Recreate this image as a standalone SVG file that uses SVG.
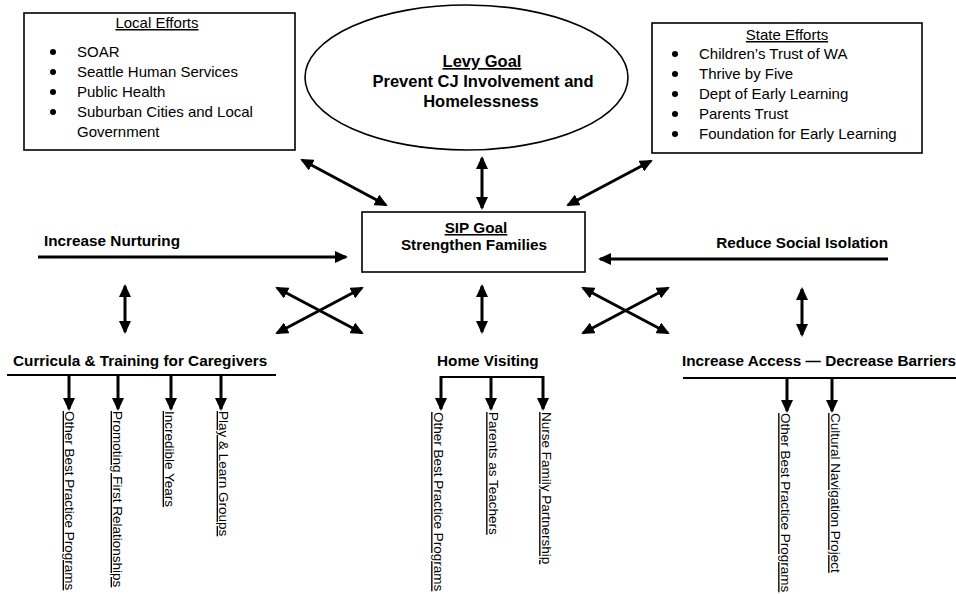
<svg xmlns="http://www.w3.org/2000/svg" width="956" height="594" viewBox="0 0 956 594">
<style>
  text { font-family: "Liberation Sans", Arial, sans-serif; fill: #000; }
  .box { fill: #fff; stroke: #000; stroke-width: 1.6; }
  .reg { font-size: 15px; }
  .title { font-size: 15px; text-decoration: underline; text-anchor: middle; }
  .bold { font-size: 15.3px; font-weight: bold; }
  .big { font-size: 16.5px; font-weight: bold; text-anchor: middle; }
  .item { font-size: 13.5px; text-decoration: underline; }
  .conn { stroke: #000; stroke-width: 3; fill: none; }
  .thin { stroke: #000; stroke-width: 2; fill: none; }
  .dbl { marker-start: url(#ah); marker-end: url(#ah); }
  .one { marker-end: url(#ah); }
</style>
<defs>
  <marker id="ah" viewBox="0 0 13 12" markerWidth="13" markerHeight="12" refX="11" refY="6" orient="auto-start-reverse" markerUnits="userSpaceOnUse">
    <path d="M0,0 L13,6 L0,12 z" fill="#000"/>
  </marker>
</defs>
<rect width="956" height="594" fill="#fff"/>

<g id="local-efforts">
  <rect class="box" x="24" y="13" width="271" height="137"/>
  <text class="title" x="157" y="28">Local Efforts</text>
  <g fill="#000">
    <circle cx="53" cy="52" r="3"/><circle cx="53" cy="72" r="3"/><circle cx="53" cy="92" r="3"/><circle cx="53" cy="112" r="3"/>
  </g>
  <text class="reg" x="77" y="57">SOAR</text>
  <text class="reg" x="77" y="77">Seattle Human Services</text>
  <text class="reg" x="77" y="97">Public Health</text>
  <text class="reg" x="77" y="117">Suburban Cities and Local</text>
  <text class="reg" x="77" y="137">Government</text>
</g>

<g id="levy-goal">
  <ellipse class="box" cx="466.5" cy="77.5" rx="161.5" ry="72.5"/>
  <text class="big" x="482" y="67" text-decoration="underline">Levy Goal</text>
  <text class="big" x="483" y="87">Prevent CJ Involvement and</text>
  <text class="big" x="481" y="107">Homelessness</text>
</g>

<g id="state-efforts">
  <rect class="box" x="652" y="23" width="270" height="130"/>
  <text class="title" x="787" y="40">State Efforts</text>
  <g fill="#000">
    <circle cx="675" cy="54" r="3"/><circle cx="675" cy="74" r="3"/><circle cx="675" cy="94" r="3"/><circle cx="675" cy="114" r="3"/><circle cx="675" cy="134" r="3"/>
  </g>
  <text class="reg" x="699" y="59">Children’s Trust of WA</text>
  <text class="reg" x="699" y="79">Thrive by Five</text>
  <text class="reg" x="699" y="99">Dept of Early Learning</text>
  <text class="reg" x="699" y="119">Parents Trust</text>
  <text class="reg" x="699" y="139">Foundation for Early Learning</text>
</g>

<g id="sip-goal">
  <rect class="box" x="362" y="212" width="223" height="60"/>
  <text class="bold" x="476" y="233" text-anchor="middle" text-decoration="underline">SIP Goal</text>
  <text class="bold" x="474" y="250" text-anchor="middle">Strengthen Families</text>
</g>

<g id="increase-nurturing">
  <text class="bold" x="44" y="246">Increase Nurturing</text>
</g>

<g id="reduce-isolation">
  <text class="bold" x="888" y="248" text-anchor="end">Reduce Social Isolation</text>
</g>

<g id="curricula">
  <text class="bold" x="13" y="366">Curricula &amp; Training for Caregivers</text>
  <line class="thin" x1="7" y1="375" x2="276" y2="375"/>
</g>
<g id="curricula-items">
  <text class="item" transform="translate(65,411) rotate(90)">Other Best Practice Programs</text>
  <text class="item" transform="translate(113,411) rotate(90)">Promoting First Relationships</text>
  <text class="item" transform="translate(165,411) rotate(90)">Incredible Years</text>
  <text class="item" transform="translate(219,411) rotate(90)">Play &amp; Learn Groups</text>
</g>

<g id="home-visiting">
  <text class="bold" x="437" y="366">Home Visiting</text>
  <line class="thin" x1="441" y1="377" x2="543" y2="377"/>
</g>
<g id="home-visiting-items">
  <text class="item" transform="translate(433.5,412) rotate(90)">Other Best Practice Programs</text>
  <text class="item" transform="translate(488.5,412) rotate(90)">Parents as Teachers</text>
  <text class="item" transform="translate(541.5,412) rotate(90)">Nurse Family Partnership</text>
</g>

<g id="increase-access">
  <text class="bold" x="682" y="366">Increase Access — Decrease Barriers</text>
  <line class="thin" x1="683" y1="378" x2="956" y2="378"/>
</g>
<g id="increase-access-items">
  <text class="item" transform="translate(780.5,413) rotate(90)">Other Best Practice Programs</text>
  <text class="item" transform="translate(830.5,413) rotate(90)">Cultural Navigation Project</text>
</g>

<g id="connectors">
  <line class="conn dbl" x1="302" y1="160" x2="386" y2="205"/>
  <line class="conn dbl" x1="482" y1="158" x2="482" y2="208"/>
  <line class="conn dbl" x1="651" y1="161" x2="568" y2="205"/>
  <line class="conn one" x1="38" y1="257" x2="346" y2="257"/>
  <line class="conn one" x1="888" y1="259" x2="600" y2="259"/>
  <line class="conn dbl" x1="125" y1="286" x2="125" y2="332"/>
  <line class="conn dbl" x1="482" y1="286" x2="482" y2="332"/>
  <line class="conn dbl" x1="802" y1="289" x2="802" y2="335"/>
  <line class="conn dbl" x1="277" y1="288" x2="362" y2="333"/>
  <line class="conn dbl" x1="277" y1="333" x2="362" y2="288"/>
  <line class="conn dbl" x1="583" y1="288" x2="668" y2="333"/>
  <line class="conn dbl" x1="583" y1="333" x2="668" y2="288"/>
  <line class="conn one" x1="69" y1="375" x2="69" y2="409"/>
  <line class="conn one" x1="118" y1="375" x2="118" y2="409"/>
  <line class="conn one" x1="171" y1="375" x2="171" y2="409"/>
  <line class="conn one" x1="221" y1="375" x2="221" y2="409"/>
  <line class="conn one" x1="441" y1="376" x2="441" y2="409"/>
  <line class="conn one" x1="491" y1="377" x2="491" y2="409"/>
  <line class="conn one" x1="543" y1="376" x2="543" y2="409"/>
  <line class="conn one" x1="787" y1="378" x2="787" y2="411"/>
  <line class="conn one" x1="832" y1="378" x2="832" y2="411"/>
</g>
</svg>
